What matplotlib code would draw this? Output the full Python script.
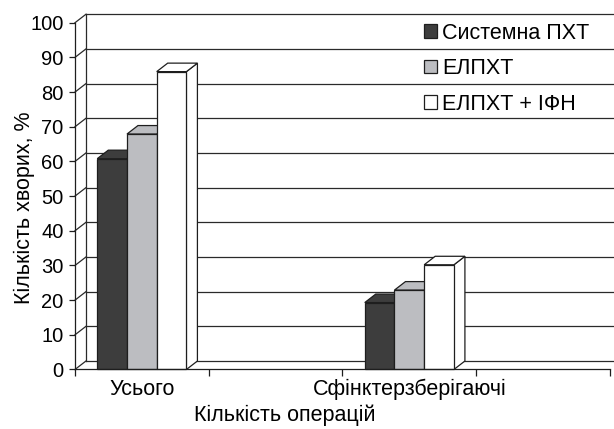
import numpy as np
import matplotlib.pyplot as plt
from matplotlib.patches import Polygon, Patch

plt.rcParams['font.family'] = ['Liberation Sans', 'DejaVu Sans']

# data
categories = ['Усього', '', 'Сфінктерзберігаючі', '']
series = ['Системна ПХТ', 'ЕЛПХТ', 'ЕЛПХТ + ІФН']
sys_pxt = [60.8, np.nan, 19.3, np.nan]
elpxt = [67.9, np.nan, 22.9, np.nan]
elpxt_ifn = [85.9, np.nan, 30.2, np.nan]
yticks = list(range(0, 101, 10))

values = [sys_pxt, elpxt, elpxt_ifn]
colors = ['#3d3d3d', '#bcbdc1', '#ffffff']
edge = '#1e1e1e'
n = len(categories)

fig = plt.figure(figsize=(6.14, 4.29), dpi=100)
ax = fig.add_axes([0.1221, 0.1387, 0.8713, 0.8083])
ax.set_xlim(0, n)
ax.set_ylim(0, 100)

# depth of the 3d box, 11 px right and 8.5 px up, in data units
bb = ax.get_window_extent()
ddx = 11 / bb.width * n
ddy = 8.5 / bb.height * 100

# back wall gridlines + left wall diagonals
for v in yticks:
    ax.plot([ddx, n + 2 * ddx], [v + ddy, v + ddy], color='#2a2a2a', lw=0.9,
            clip_on=False, zorder=1)
    ax.plot([0, ddx], [v, v + ddy], color='#2a2a2a', lw=0.9, clip_on=False, zorder=1)
ax.plot([ddx, ddx], [ddy, 100 + ddy], color='#2a2a2a', lw=0.9, clip_on=False, zorder=1)

# 3d bars
w = 1 / 4.5
z = 3
for j in range(n):
    for i in range(len(series)):
        h = values[i][j]
        if np.isnan(h):
            continue
        x0 = j + 0.75 * w + i * w
        x1 = x0 + w
        side = Polygon([(x1, 0), (x1 + ddx, ddy), (x1 + ddx, h + ddy), (x1, h)],
                       closed=True, facecolor=colors[i], edgecolor=edge, lw=0.9,
                       zorder=z, clip_on=False)
        top = Polygon([(x0, h), (x1, h), (x1 + ddx, h + ddy), (x0 + ddx, h + ddy)],
                      closed=True, facecolor=colors[i], edgecolor=edge, lw=0.9,
                      zorder=z, clip_on=False)
        ax.add_patch(side)
        ax.add_patch(top)
        ax.bar(x0, h, width=w, align='edge', color=colors[i], edgecolor=edge,
               lw=0.9, zorder=z + 0.05, clip_on=False)
        z += 0.1

# axes
for s in ['top', 'right']:
    ax.spines[s].set_visible(False)
for s in ['left', 'bottom']:
    ax.spines[s].set_color(edge)
    ax.spines[s].set_linewidth(0.9)
    ax.spines[s].set_zorder(10)

ax.set_yticks(yticks)
ax.tick_params(axis='y', direction='out', length=4.3, width=0.9, color=edge,
               labelsize=14.5, pad=4)
ax.set_xticks(range(n + 1))
ax.set_xticklabels([])
ax.set_xticks(np.arange(n) + 0.5, minor=True)
ax.set_xticklabels(categories, minor=True)
ax.tick_params(axis='x', which='major', direction='out', length=5, width=0.9, color=edge)
ax.tick_params(axis='x', which='minor', length=0, labelsize=15.5, pad=6.5)

ax.set_ylabel('Кількість хворих, %', fontsize=15.5)
ax.yaxis.set_label_coords(-0.075, 0.466)
ax.set_xlabel('Кількість операцій', fontsize=15.5)
ax.xaxis.set_label_coords(0.393, -0.1)

handles = [Patch(facecolor=c, edgecolor=edge, lw=0.9) for c in colors]
ax.legend(handles, series, loc='upper left', bbox_to_anchor=(413 / 614, 1 - 12 / 429),
          bbox_transform=fig.transFigure, frameon=False, borderpad=0, fontsize=15.5,
          handlelength=0.6, handleheight=0.6, handletextpad=0.25, labelspacing=0.67)

fig.savefig('out.png', dpi=100)
